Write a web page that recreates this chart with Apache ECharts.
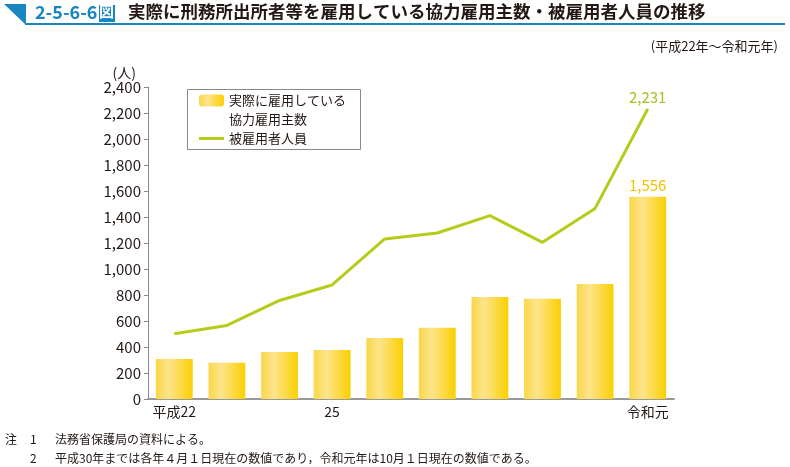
<!DOCTYPE html>
<html><head><meta charset="utf-8">
<script src="https://cdn.jsdelivr.net/npm/echarts@6/dist/echarts.min.js"></script>
<style>html,body{margin:0;padding:0;background:#fff}#c{width:790px;height:467px}</style>
</head><body><div id="c"></div>
<script>
const categories = ['平成22','23','24','25','26','27','28','29','30','令和元'];
const tickLabels = {0:'平成22',3:'25',9:'令和元'};
const employers = [308, 279, 361, 377, 469, 548, 785, 772, 885, 1556];
const employees = [502, 566, 758, 877, 1231, 1277, 1410, 1205, 1466, 2231];
const barName = '実際に雇用している協力雇用主数';
const barLegendText = '\n実際に雇用している\n協力雇用主数';
const lineName = '被雇用者人員';

const font = '"Noto Sans CJK JP", "Noto Sans", sans-serif';
const txt = '#231815';
const lineColor = '#B6CC1A';
const chart = echarts.init(document.getElementById('c'), null, {renderer:'canvas'});
const last = employers.length - 1;
const fmt = v => v.toLocaleString('en-US');
chart.setOption({
  animation:false,
  textStyle:{fontFamily:font},
  grid:{left:148, right:116, top:87, bottom:68, containLabel:false},
  legend:{
    orient:'vertical', left:199, top:72, padding:0,
    itemWidth:25, itemHeight:12, itemGap:0,
    textStyle:{fontSize:13, color:txt, lineHeight:19, fontFamily:font},
    formatter:n => n === barName ? barLegendText : n,
    data:[{name:barName}, {name:lineName, icon:'path://M0,0H25V3H0Z', itemStyle:{color:lineColor}}]
  },
  xAxis:{
    type:'category', data:categories,
    axisLine:{lineStyle:{color:'#999', width:2}},
    axisTick:{show:false},
    axisLabel:{interval:0, fontSize:14, color:txt, margin:6,
      formatter:(v,i)=> tickLabels[i] || ''}
  },
  yAxis:{
    type:'value', min:0, max:2400, interval:200,
    name:'(人)', nameLocation:'end', nameGap:6,
    nameTextStyle:{fontSize:14, color:txt, align:'right', padding:[0,12,0,0]},
    axisLine:{show:true, lineStyle:{color:'#888', width:1}},
    axisTick:{show:true, length:4, lineStyle:{color:'#888'}},
    splitLine:{show:false},
    axisLabel:{fontSize:15, color:txt, margin:7, formatter:fmt}
  },
  series:[
    {
      name:barName, type:'bar', barWidth:'70%',
      itemStyle:{
        color:new echarts.graphic.LinearGradient(0,0,1,0,[
          {offset:0, color:'#F9D748'},
          {offset:0.35, color:'#FDE48C'},
          {offset:1, color:'#FAD000'}
        ])
      },
      data:employers.map((v,i)=> i===last ? {value:v, label:{show:true, position:'top', distance:4,
        color:'#F2C200', fontSize:15, formatter:p=>fmt(p.value)}} : v)
    },
    {
      name:lineName, type:'line', symbol:'circle', symbolSize:0, showSymbol:true,
      lineStyle:{color:lineColor, width:3},
      itemStyle:{color:lineColor},
      data:employees.map((v,i)=> i===last ? {value:v, label:{show:true, position:'top', distance:4,
        color:'#A9C020', fontSize:15, formatter:p=>fmt(p.value)}} : v)
    }
  ],
  graphic:[
    {type:'rect', shape:{x:187.5, y:89.5, width:173, height:60}, style:{fill:'none', stroke:'#888', lineWidth:1}},
    {type:'polygon', shape:{points:[[4,4],[26,4],[26,25]]}, style:{fill:'#1a86c0'}},
    {type:'rect', shape:{x:25, y:23, width:760, height:2}, style:{fill:'#1a86c0'}},
    {type:'text', left:35, top:3, style:{text:'2-5-6-6', font:'bold 18px '+font, fill:'#1a86c0'}},
    {type:'rect', shape:{x:99, y:5, width:16, height:17}, style:{fill:'#1a86c0'}},
    {type:'text', left:99, top:4, style:{text:'図', font:'bold 15px '+font, fill:'#fff'}},
    {type:'text', left:128, top:3, style:{text:'実際に刑務所出所者等を雇用している協力雇用主数・被雇用者人員の推移', font:'bold 17.5px '+font, fill:txt}},
    {type:'text', right:12, top:40, style:{text:'(平成22年～令和元年)', font:'13px '+font, fill:txt}},
    {type:'text', left:5, top:433, style:{text:'注', font:'12px '+font, fill:txt}},
    {type:'text', left:30, top:433, style:{text:'1', font:'12px '+font, fill:txt}},
    {type:'text', left:55, top:433, style:{text:'法務省保護局の資料による。', font:'12px '+font, fill:txt}},
    {type:'text', left:30, top:452, style:{text:'2', font:'12px '+font, fill:txt}},
    {type:'text', left:55, top:452, style:{text:'平成30年までは各年４月１日現在の数値であり，令和元年は10月１日現在の数値である。', font:'12px '+font, fill:txt}}
  ]
});
</script></body></html>
